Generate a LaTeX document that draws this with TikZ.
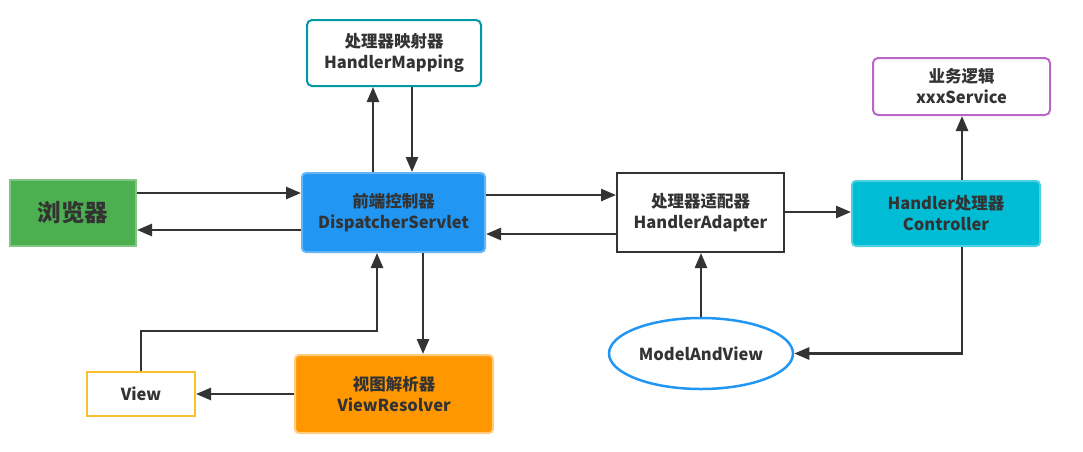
\documentclass[tikz,border=0pt]{standalone}
\usepackage{fontspec}
\setmainfont{Noto Sans CJK SC}
\usetikzlibrary{arrows.meta,shapes.geometric}
\definecolor{txt}{HTML}{333333}
\definecolor{line}{HTML}{333333}
\definecolor{brfill}{HTML}{4CAF50}
\begin{document}
\begin{tikzpicture}[x=1pt,y=-1pt,
  box/.style={draw, line width=2pt, minimum width=#1, align=center, inner sep=0pt, text=txt, font=\bfseries\fontsize{16.5}{21}\selectfont},
  arr/.style={draw=line, line width=2.6pt, -{Triangle[length=15pt,width=12pt]}}]
\useasboundingbox (0,0) rectangle (1083,451);
\node[box=126pt, minimum height=66pt, fill=brfill, draw={rgb,255:red,129;green,199;blue,132}, font=\bfseries\fontsize{23.5}{26}\selectfont] (br) at (73,213) {浏览器};
\node[box=183pt, minimum height=79pt, fill={rgb,255:red,33;green,150;blue,243}, draw={rgb,255:red,100;green,181;blue,246}, rounded corners=4pt] (ds) at (393.5,212.5) {前端控制器\\DispatcherServlet};
\node[box=174pt, minimum height=66pt, fill=white, draw={rgb,255:red,0;green,151;blue,167}, rounded corners=5pt] (hm) at (394,53) {处理器映射器\\HandlerMapping};
\node[box=167pt, minimum height=79pt, fill=white, draw=line] (ha) at (700.5,212.5) {处理器适配器\\HandlerAdapter};
\node[box=188pt, minimum height=65pt, fill={rgb,255:red,0;green,188;blue,212}, draw={rgb,255:red,77;green,208;blue,225}, rounded corners=4pt] (ct) at (946,213.5) {Handler处理器\\Controller};
\node[box=177pt, minimum height=57pt, fill=white, draw={rgb,255:red,186;green,104;blue,200}, rounded corners=5pt] (sv) at (961.5,86.5) {业务逻辑\\xxxService};
\node[ellipse, draw={rgb,255:red,33;green,150;blue,243}, line width=2.5pt, minimum width=184pt, minimum height=71pt, inner sep=0pt, text=txt, font=\bfseries\fontsize{16.5}{21}\selectfont] (mv) at (701,353.5) {ModelAndView};
\node[box=108pt, minimum height=44pt, fill=white, draw={rgb,255:red,251;green,192;blue,45}] (vw) at (141,394) {View};
\node[box=198pt, minimum height=78pt, fill={rgb,255:red,255;green,152;blue,0}, draw={rgb,255:red,255;green,204;blue,128}, rounded corners=4pt] (vr) at (394,394) {视图解析器\\ViewResolver};

\draw[arr] (br.east |- 0,193) -- (ds.west |- 0,193);
\draw[arr] (ds.west |- 0,230) -- (br.east |- 0,230);
\draw[arr] (ds.north -| 373,0) -- (hm.south -| 373,0);
\draw[arr] (hm.south -| 412,0) -- (ds.north -| 412,0);
\draw[arr] (ds.east |- 0,195) -- (ha.west |- 0,195);
\draw[arr] (ha.west |- 0,234) -- (ds.east |- 0,234);
\draw[arr] (ha.east |- 0,212) -- (ct.west |- 0,212);
\draw[arr] (ct.north -| 962,0) -- (sv.south -| 962,0);
\draw[arr] (ct.south -| 962,0) |- (mv.east);
\draw[arr] (mv.north) -- (ha.south -| mv.north);
\draw[arr] (ds.south -| 423,0) -- (vr.north -| 423,0);
\draw[arr] (vr.west) -- (vw.east);
\draw[arr] (vw.north) -- (141,331) -| (ds.south -| 377,0);
\end{tikzpicture}
\end{document}
